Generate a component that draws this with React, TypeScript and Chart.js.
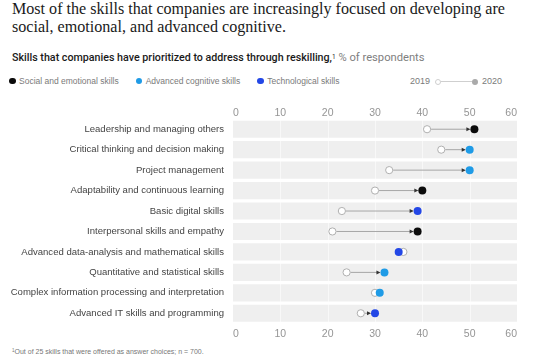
import React, { useEffect, useRef } from "react";
import { Chart, registerables } from "chart.js";

Chart.register(...registerables);

const categories = [
  "Leadership and managing others",
  "Critical thinking and decision making",
  "Project management",
  "Adaptability and continuous learning",
  "Basic digital skills",
  "Interpersonal skills and empathy",
  "Advanced data-analysis and mathematical skills",
  "Quantitative and statistical skills",
  "Complex information processing and interpretation",
  "Advanced IT skills and programming",
];
const skillGroup = [
  "social", "cognitive", "cognitive", "social", "tech",
  "social", "tech", "cognitive", "cognitive", "tech",
];
const values2019 = [41, 44, 33, 30, 23, 21, 36, 24, 30, 27];
const values2020 = [51, 50, 50, 40, 39, 39, 35, 32, 31, 30];
const tickValues = [0, 10, 20, 30, 40, 50, 60];
const axisMin = 0;
const axisMax = 60;

const groupColors: Record<string, string> = {
  social: "#0b0b0b",
  cognitive: "#1f9be6",
  tech: "#2347e6",
};
const legendItems = [
  { label: "Social and emotional skills", color: groupColors.social },
  { label: "Advanced cognitive skills", color: groupColors.cognitive },
  { label: "Technological skills", color: groupColors.tech },
];

const SANS = "'Helvetica Neue', 'Liberation Sans', Arial, sans-serif";

const connectorPlugin = {
  id: "connectors",
  afterDatasetDraw(chart: any, args: any) {
    if (args.index !== 0) return;
    const ctx = chart.ctx;
    const xs = chart.scales.x;
    const ys = chart.scales.y;
    const area = chart.chartArea;
    ctx.save();
    ctx.strokeStyle = "rgba(255,255,255,0.55)";
    ctx.lineWidth = 1;
    tickValues.slice(1, -1).forEach((v) => {
      const px = Math.round(xs.getPixelForValue(v)) + 0.5;
      ctx.beginPath();
      ctx.moveTo(px, area.top);
      ctx.lineTo(px, area.bottom);
      ctx.stroke();
    });
    categories.forEach((c, i) => {
      const y = ys.getPixelForValue(i);
      const x1 = xs.getPixelForValue(values2019[i]);
      const x2 = xs.getPixelForValue(values2020[i]);
      const dir = x2 >= x1 ? 1 : -1;
      const r = 4;
      if (Math.abs(x2 - x1) < 2 * r + 2) return;
      const sx = x1 + dir * r;
      const ex = x2 - dir * (r + 1);
      ctx.strokeStyle = "#a6a6a6";
      ctx.lineWidth = 1;
      ctx.beginPath();
      ctx.moveTo(sx, y);
      ctx.lineTo(ex, y);
      ctx.stroke();
      ctx.fillStyle = "#333";
      ctx.beginPath();
      ctx.moveTo(ex + dir * 1, y);
      ctx.lineTo(ex - dir * 3, y - 2);
      ctx.lineTo(ex - dir * 3, y + 2);
      ctx.closePath();
      ctx.fill();
    });
    ctx.restore();
  },
};

export default function App() {
  const ref = useRef<HTMLCanvasElement | null>(null);

  useEffect(() => {
    if (!ref.current) return;
    const tickOpts = {
      color: "#959595",
      font: { family: SANS, size: 10.5 },
      maxRotation: 0,
      autoSkip: false,
      align: "inner",
    };
    const chart = new Chart(ref.current, {
      type: "bar",
      data: {
        labels: categories,
        datasets: [
          {
            type: "bar",
            data: categories.map(() => [axisMin, axisMax]) as any,
            backgroundColor: "#efefef",
            borderWidth: 0,
            barPercentage: 1,
            categoryPercentage: 0.84,
            xAxisID: "x",
            yAxisID: "y",
            order: 3,
          } as any,
          {
            type: "line",
            data: values2019.map((v, i) => ({ x: v, y: categories[i] })),
            showLine: false,
            pointRadius: 3.6,
            pointBackgroundColor: "#ffffff",
            pointBorderColor: "#b0b0b0",
            pointBorderWidth: 1,
            xAxisID: "x",
            yAxisID: "y",
            order: 2,
          } as any,
          {
            type: "line",
            data: values2020.map((v, i) => ({ x: v, y: categories[i] })),
            showLine: false,
            pointRadius: 4,
            pointBackgroundColor: skillGroup.map((g) => groupColors[g]),
            pointBorderWidth: 0,
            xAxisID: "x",
            yAxisID: "y",
            order: 1,
          } as any,
        ],
      },
      options: {
        indexAxis: "y",
        animation: false,
        responsive: false,
        devicePixelRatio: 1,
        layout: { padding: { left: 0, right: 23, top: 0, bottom: 0 } },
        plugins: {
          legend: { display: false },
          tooltip: { enabled: false },
        },
        scales: {
          y: {
            type: "category",
            position: "left",
            grid: { display: false, drawTicks: false },
            border: { display: false },
            ticks: {
              color: "#444444",
              font: { family: SANS, size: 9.55 },
              padding: 9,
              autoSkip: false,
            },
            afterFit: (s: any) => {
              s.width = 233;
            },
          },
          x: {
            type: "linear",
            position: "bottom",
            min: axisMin,
            max: axisMax,
            afterBuildTicks: (s: any) => {
              s.ticks = tickValues.map((v) => ({ value: v }));
            },
            grid: { display: false, drawTicks: false },
            border: { display: false },
            ticks: { ...tickOpts, padding: 4 },
            afterFit: (s: any) => {
              s.height = 23.5;
            },
          },
          xTop: {
            type: "linear",
            position: "top",
            min: axisMin,
            max: axisMax,
            afterBuildTicks: (s: any) => {
              s.ticks = tickValues.map((v) => ({ value: v }));
            },
            grid: { display: false, drawTicks: false },
            border: { display: false },
            ticks: { ...tickOpts, padding: 0 },
            afterFit: (s: any) => {
              s.height = 22;
            },
          },
        },
      } as any,
      plugins: [connectorPlugin],
    });
    return () => chart.destroy();
  }, []);

  const dot = (color: string): React.CSSProperties => ({
    display: "inline-block",
    width: 6.5,
    height: 6.5,
    borderRadius: "50%",
    background: color,
    marginRight: 3.5,
    verticalAlign: "middle",
    position: "relative",
    top: -1,
  });

  return (
    <div
      style={{
        position: "fixed",
        left: 0,
        top: 0,
        width: 540,
        height: 362,
        background: "#fff",
        overflow: "hidden",
      }}
    >
      <div
        style={{
          position: "absolute",
          left: 12,
          top: 0,
          width: 520,
          fontFamily: "'Liberation Serif', 'Times New Roman', serif",
          fontSize: 16.1,
          lineHeight: "17.5px",
          color: "#1a1a1a",
        }}
      >
        Most of the skills that companies are increasingly focused on developing are
        <br />
        social, emotional, and advanced cognitive.
      </div>
      <div
        style={{
          position: "absolute",
          left: 12,
          top: 51,
          fontFamily: "Roboto, " + SANS,
          fontSize: 10.7,
          lineHeight: "14px",
          color: "#1a1a1a",
          whiteSpace: "nowrap",
        }}
      >
        <span style={{ fontWeight: 500 }}>
          Skills that companies have prioritized to address through reskilling,
        </span>
        <sup style={{ fontSize: 6.5, verticalAlign: "top", position: "relative", top: -1 }}>1</sup>
        <span style={{ color: "#808080", fontSize: 11.2 }}> % of respondents</span>
      </div>
      <div
        style={{
          position: "absolute",
          left: 9,
          top: 75,
          fontFamily: SANS,
          fontSize: 8.5,
          lineHeight: "13px",
          color: "#7a7a7a",
          whiteSpace: "nowrap",
        }}
      >
        {legendItems.map((it, i) => (
          <span key={i} style={{ marginRight: 17 }}>
            <span style={dot(it.color)} />
            {it.label}
          </span>
        ))}
      </div>
      <div
        style={{
          position: "absolute",
          right: 38,
          top: 75,
          fontFamily: SANS,
          fontSize: 9,
          lineHeight: "13px",
          color: "#7a7a7a",
          whiteSpace: "nowrap",
          display: "flex",
          alignItems: "center",
        }}
      >
        <span>2019</span>
        <span
          style={{
            display: "inline-block",
            width: 6,
            height: 6,
            borderRadius: "50%",
            border: "1px solid #cfcfcf",
            marginLeft: 5,
            boxSizing: "border-box",
          }}
        />
        <span style={{ display: "inline-block", width: 31, height: 1, background: "#cfcfcf" }} />
        <span
          style={{
            display: "inline-block",
            width: 6,
            height: 6,
            borderRadius: "50%",
            background: "#aaaaaa",
            marginRight: 4,
          }}
        />
        <span>2020</span>
      </div>
      <canvas
        ref={ref}
        width={540}
        height={250}
        style={{ position: "absolute", left: 0, top: 96.5, width: 540, height: 250 }}
      />
      <div
        style={{
          position: "absolute",
          left: 12,
          top: 347,
          fontFamily: SANS,
          fontSize: 7,
          lineHeight: "10px",
          color: "#777",
          whiteSpace: "nowrap",
        }}
      >
        <span style={{ fontSize: 4.5, position: "relative", top: -2.5 }}>1</span>Out of 25 skills that were offered as answer choices; n = 700.
      </div>
    </div>
  );
}
